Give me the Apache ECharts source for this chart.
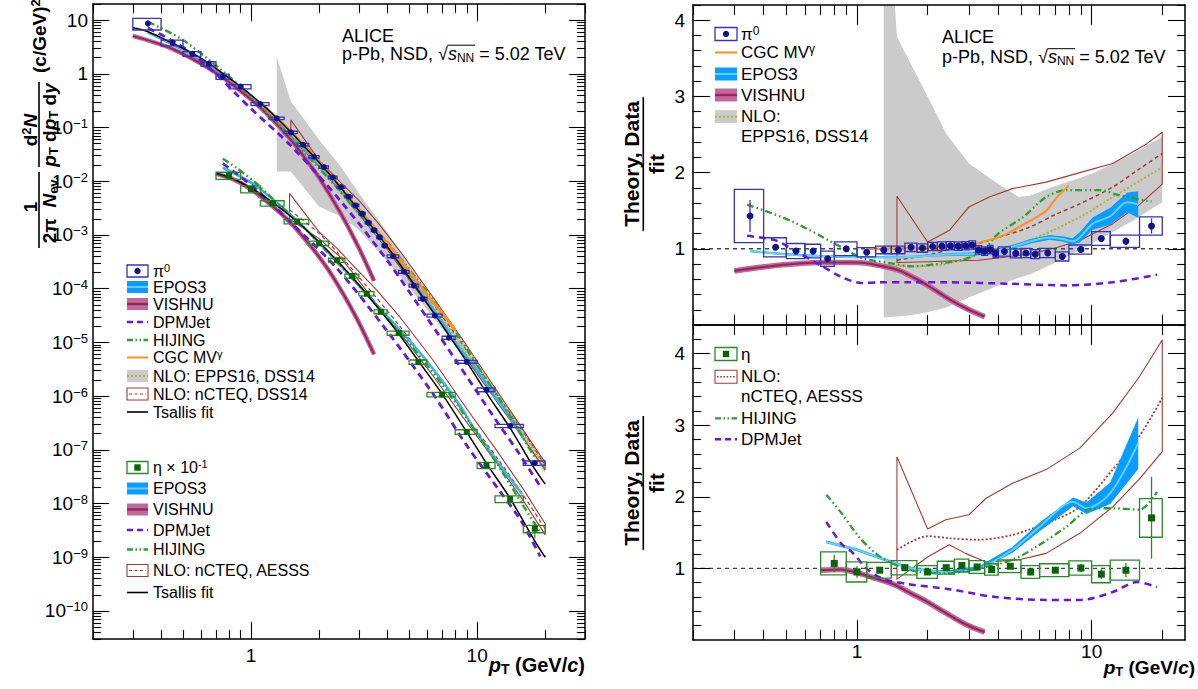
<!DOCTYPE html>
<html>
<head>
<meta charset="utf-8">
<title>ALICE neutral meson spectra p-Pb 5.02 TeV</title>
<script src="https://cdn.jsdelivr.net/npm/echarts@6.0.0/dist/echarts.min.js"></script>
<style>
html,body{margin:0;padding:0;background:#fff;}
#chart{width:1198px;height:689px;}
</style>
</head>
<body>
<div id="chart"></div>
<script>
// ---------------- axis ranges and tick labels ----------------
const spectraXMin = 0.2, spectraXMax = 30;
const spectraYMin = 3e-11, spectraYMax = 20;
const ratioXMin = 0.2, ratioXMax = 25;
const ratioTopYMin = 0, ratioTopYMax = 4.2;
const ratioBotYMin = 0, ratioBotYMax = 4.4;
const xMajorTicks = [1, 10];
const spectraYMajorTicks = [1e-10, 1e-9, 1e-8, 1e-7, 1e-6, 1e-5, 1e-4, 1e-3, 1e-2, 1e-1, 1, 10];
const ratioYMajorTicks = [1, 2, 3, 4];
const unityRatio = 1;

// ---------------- pi0 data ----------------
const pi0BinLo = [0.3,0.4,0.5,0.6,0.7,0.8,1.0,1.2,1.4,1.6,1.8,2.0,2.2,2.4,2.6,2.8,3.0,3.2,3.4,3.6,3.8,4.0,4.5,5.0,5.5,6.0,7.0,8.0,10,12,16];
const pi0BinHi = [0.4,0.5,0.6,0.7,0.8,1.0,1.2,1.4,1.6,1.8,2.0,2.2,2.4,2.6,2.8,3.0,3.2,3.4,3.6,3.8,4.0,4.5,5.0,5.5,6.0,7.0,8.0,10,12,16,20];
const pi0Pt = [0.35,0.45,0.55,0.65,0.75,0.9,1.1,1.3,1.5,1.7,1.9,2.1,2.3,2.5,2.7,2.9,3.1,3.3,3.5,3.7,3.9,4.25,4.75,5.25,5.75,6.5,7.5,9,11,14,18];
const pi0Yield = [8.68,3.79,2.36,1.54,0.891,0.58,0.275,0.1485,0.0813,0.048,0.0286,0.0184,0.01178,0.0078,0.0052,0.00355,0.0025,0.0017,0.00123,0.00091,0.000634,0.000402,0.000207,0.000114,6.45e-5,3.16e-5,1.22e-5,4.35e-6,1.31e-6,2.78e-7,5.67e-8];
const pi0Ratio = [1.43,1.02,0.97,0.97,0.87,1.0,0.955,0.985,0.985,1.02,1.01,1.03,1.035,1.04,1.035,1.04,1.05,0.985,0.97,0.99,0.94,0.965,0.94,0.945,0.93,0.945,0.9,0.99,1.135,1.10,1.30];
const pi0Syst = [0.35,0.125,0.1,0.09,0.1,0.09,0.06,0.05,0.05,0.055,0.055,0.055,0.055,0.055,0.055,0.055,0.055,0.055,0.055,0.055,0.055,0.06,0.06,0.06,0.06,0.06,0.06,0.06,0.09,0.08,0.12];
const pi0Stat = [0.21,0.03,0.02,0.02,0.02,0.02,0.01,0.01,0.01,0.01,0.01,0.01,0.01,0.01,0.01,0.01,0.01,0.01,0.01,0.01,0.01,0.01,0.01,0.01,0.01,0.015,0.02,0.03,0.04,0.05,0.1];

// ---------------- eta data (spectrum scaled by 0.1) ----------------
const etaBinLo = [0.7,0.9,1.1,1.4,1.8,2.2,2.6,3.0,3.5,4.0,5.0,6.0,8.0,10,12,16];
const etaBinHi = [0.9,1.1,1.4,1.8,2.2,2.6,3.0,3.5,4.0,5.0,6.0,8.0,10,12,16,20];
const etaPt = [0.8,1.0,1.25,1.6,2.0,2.4,2.8,3.25,3.75,4.5,5.5,7,9,11,14,18];
const etaYieldScaled = [0.0128,0.00715,0.0039,0.00178,7.03e-4,3.39e-4,1.72e-4,8.07e-5,3.72e-5,1.49e-5,4.29e-6,1.07e-6,2.15e-7,5.14e-8,1.21e-8,3.39e-9];
const etaRatio = [1.07,0.95,0.975,1.01,0.95,1.01,1.04,1.02,0.985,1.03,0.95,0.975,1.005,0.92,0.975,1.705];
const etaSyst = [0.16,0.14,0.11,0.1,0.09,0.09,0.09,0.09,0.08,0.09,0.09,0.09,0.1,0.12,0.14,0.27];
const etaStat = [0.12,0.08,0.04,0.04,0.03,0.03,0.03,0.03,0.03,0.03,0.04,0.04,0.06,0.07,0.1,0.57];

// ---------------- Tsallis fits ----------------
const pi0FitPt = [0.3,0.35,0.45,0.55,0.65,0.75,0.9,1.1,1.3,1.5,1.7,2.0,2.5,3.0,3.5,4.0,5.0,6.0,7.5,9,11,14,18,20];
const pi0Fit = [7.2,6.1,3.72,2.43,1.59,1.02,0.58,0.288,0.151,0.0825,0.047,0.0225,0.0075,0.00285,0.00127,0.00061,0.000163,5.4e-5,1.36e-5,4.35e-6,1.15e-6,2.53e-7,4.36e-8,2.3e-8];
const etaFitPt = [0.7,0.8,1.0,1.25,1.6,2.0,2.4,2.8,3.25,3.75,4.5,5.5,7,9,11,14,18,20];
const etaFit = [0.0142,0.01196,0.00753,0.0040,0.00176,7.4e-4,3.36e-4,1.65e-4,7.9e-5,3.78e-5,1.45e-5,4.5e-6,1.10e-6,2.14e-7,5.6e-8,1.24e-8,2.0e-9,1.0e-9];

// ---------------- model spectra (left panel) ----------------
const epos3Pi0SpecPt = [0.35,0.45,0.55,0.7,0.85,1.0,1.25,1.5,1.75,2.0,2.5,3.0,3.5,4.0,5.0,6.0,7.0,8.0,10,12,14,16];
const epos3Pi0Spec = [5.92,3.50,2.24,1.153,0.627,0.363,0.158,0.0733,0.0371,0.0205,0.00693,0.00265,0.00119,6.04e-4,1.73e-4,6.0e-5,2.46e-5,1.03e-5,2.98e-6,9.66e-7,4.05e-7,1.66e-7];
const vishnuPi0SpecPt = [0.3,0.45,0.7,1.0,1.2,1.5,1.75,2.0,2.5,3.0,3.5];
const vishnuPi0Spec = [5.1,2.9,1.045,0.335,0.165,0.0593,0.0256,0.0117,0.00248,5.7e-4,1.4e-4];
const dpmjetPi0SpecPt = [0.35,0.45,0.55,0.7,0.85,1.0,1.5,2.5,4.0,6.0,8.0,12,15,19];
const dpmjetPi0Spec = [7.13,4.13,2.38,0.993,0.442,0.224,0.0461,0.0042,3.37e-4,2.88e-5,4.85e-6,3.78e-7,9.8e-8,2.09e-8];
const hijingPi0SpecPt = [0.35,0.5,0.85,1.05,1.4,1.75,2.4,3.0,3.5,4.0,5.0,6.5,8,11,13,18];
const hijingPi0Spec = [9.3,4.27,0.714,0.301,0.0902,0.0318,0.00757,0.0025,0.00127,7.4e-4,2.3e-4,5.6e-5,1.65e-5,2.04e-6,7.1e-7,7.1e-8];
const cgcPi0SpecPt = [1.1,1.5,2,3,4,5,6,7,8];
const cgcPi0Spec = [0.288,0.0832,0.023,0.00299,7.1e-4,2.12e-4,7.72e-5,3.52e-5,1.71e-5];
const epps16BandPt = [1.3,1.5,2.0,2.5,3.0,4.0,5.0,6.0,7.0,8.0,10,12,15,20];
const epps16BandHi = [2.05,0.308,0.0595,0.0184,0.006,0.00114,2.73e-4,9.25e-5,3.85e-5,1.73e-5,4.44e-6,1.42e-6,3.65e-7,5.66e-8];
const epps16BandLo = [0.0152,0.0152,0.0034,0.0022,0.00124,3.2e-4,1.06e-4,4.08e-5,1.82e-5,8.67e-6,2.46e-6,8.24e-7,2.22e-7,3.66e-8];
const epps16CenterPt = [1.3,2,3,4,5,6,8,10,12,15,20];
const epps16Center = [0.119,0.0178,0.0025,6.04e-4,1.76e-4,6.34e-5,1.29e-5,3.36e-6,1.12e-6,3.0e-7,4.74e-8];
const ncteqPi0HiPt = [1.5,2.0,2.5,3.0,3.66,4.6,6.4,8.9,12.3,17.2,20];
const ncteqPi0Hi = [0.139,0.0245,0.0093,0.00442,0.00165,4.76e-4,6.8e-5,9.35e-6,1.22e-6,1.48e-7,5.79e-8];
const ncteqPi0LoPt = [1.5,2.0,2.5,3.3,4.0,5.4,7,8.9,12.3,16,20];
const ncteqPi0Lo = [0.0676,0.01866,0.0063,0.00147,5.42e-4,9.5e-5,2.16e-5,5.19e-6,7.66e-7,1.66e-7,4.24e-8];
const ncteqPi0Center = [0.07,0.0207,0.00743,0.00185,7.1e-4,1.31e-4,3.1e-5,7.43e-6,1.04e-6,2.15e-7,5.15e-8];

const epos3EtaSpecPt = [0.75,1.0,1.25,1.5,1.75,2.4,3.3,4.6,6.0,8.35,9.5,12,15.8];
const epos3EtaSpec = [0.01786,0.00948,0.0046,0.00236,0.00127,3.19e-4,7.35e-5,1.62e-5,4.45e-6,7.0e-7,2.82e-7,6.97e-8,1.5e-8];
const vishnuEtaSpecPt = [0.7,0.85,1.0,1.2,1.45,1.7,2.0,2.3,2.9,3.5];
const vishnuEtaSpec = [0.01384,0.0105,0.00708,0.0039,0.00193,9.2e-4,3.92e-4,1.68e-4,3.08e-5,6.0e-6];
const dpmjetEtaSpecPt = [0.75,0.86,1.05,1.46,2.39,3.9,6.4,9,12.3,15.6,19];
const dpmjetEtaSpec = [0.0215,0.01396,0.00716,0.00191,2.43e-4,1.87e-5,1.08e-6,1.2e-7,1.95e-8,4.83e-9,1.04e-9];
const hijingEtaSpecPt = [0.75,0.86,1.05,1.25,1.5,1.72,2.39,3.3,4.6,6.0,7.8,10.1,12.3,16,19];
const hijingEtaSpec = [0.0264,0.01795,0.00929,0.00468,0.00234,0.001355,3.18e-4,7.35e-5,1.44e-5,3.74e-6,9.04e-7,1.88e-7,5.37e-8,9.1e-9,2.92e-9];
const ncteqEtaHiPt = [1.48,2.0,2.39,3.0,3.55,4.6,6.4,8.9,12.3,16,20];
const ncteqEtaHi = [0.00597,0.001146,5.74e-4,2.08e-4,1.0e-4,2.82e-5,4.6e-6,6.21e-7,9.25e-8,1.85e-8,4.19e-9];
const ncteqEtaLoPt = [1.48,2.0,2.47,2.9,3.55,4.9,6.4,8.9,12.3,16,20];
const ncteqEtaLo = [0.00198,8.57e-4,3.94e-4,1.69e-4,5.52e-5,1.02e-5,2.34e-6,3.45e-7,5.43e-8,1.13e-8,2.63e-9];
const ncteqEtaCenterPt = [1.48,2.0,2.5,3.3,4.5,5.4,7,8.9,12.3,16,20];
const ncteqEtaCenter = [0.00294,0.00107,3.99e-4,1.03e-4,2.11e-5,7.8e-6,1.85e-6,4.32e-7,6.95e-8,1.43e-8,3.38e-9];

// ---------------- model / fit ratios, pi0 (top right) ----------------
const epos3Pi0RatioPt = [0.35,0.45,0.55,0.7,0.85,1.0,1.25,1.5,1.75,2.0,2.5,3.0,3.5,4.0,4.9,5.5,6.6,7.5,8.3,8.9,10.1,12,14.2,15.8];
const epos3Pi0RatioMid = [0.97,0.94,0.92,0.905,0.895,0.89,0.89,0.89,0.895,0.91,0.925,0.93,0.94,0.98,1.05,1.1,1.15,1.13,1.10,1.15,1.33,1.43,1.61,1.58];
const epos3Pi0RatioErr = [0.015,0.015,0.015,0.015,0.015,0.015,0.015,0.015,0.015,0.015,0.02,0.02,0.02,0.02,0.025,0.03,0.03,0.035,0.04,0.066,0.08,0.11,0.13,0.175];
const vishnuPi0RatioPt = [0.3,0.45,0.7,1.0,1.2,1.5,1.75,2.0,2.5,3.0,3.5];
const vishnuPi0Ratio = [0.71,0.78,0.82,0.82,0.79,0.72,0.62,0.52,0.33,0.2,0.11];
const dpmjetPi0RatioPt = [0.34,0.45,0.54,0.685,0.86,1.05,1.24,1.66,2.4,4.6,7.8,12.3,19];
const dpmjetPi0Ratio = [1.17,1.11,0.98,0.8,0.63,0.55,0.56,0.56,0.56,0.54,0.52,0.56,0.66];
const hijingPi0RatioPt = [0.34,0.52,0.86,1.05,1.4,1.72,2.4,3.0,3.5,4.0,5.1,6.4,7.8,10.8,13.2,18];
const hijingPi0Ratio = [1.58,1.37,1.02,0.88,0.81,0.77,0.82,0.88,1.0,1.2,1.415,1.68,1.77,1.77,1.7,1.62];
const cgcPi0RatioPt = [1.1,1.5,2.0,2.5,3.0,3.5,4.0,4.5,5.0,5.5,6.0,6.5,7.0,7.5,8.0];
const cgcPi0Ratio = [1.0,1.01,1.02,1.03,1.05,1.1,1.15,1.22,1.3,1.37,1.44,1.52,1.65,1.75,1.83];
const epps16RatioBandPt = [1.3,1.48,1.72,2.0,2.4,3.0,4.0,4.9,5.5,6.8,8.9,10.1,12,15,20];
const epps16RatioHi = [6.5,3.78,3.39,3.0,2.51,2.12,1.85,1.68,1.7,1.81,1.93,1.99,2.1,2.25,2.47];
const epps16RatioLo = [0.1,0.11,0.13,0.17,0.23,0.36,0.52,0.62,0.67,0.8,0.98,1.08,1.2,1.37,1.61];
const epps16RatioCenterPt = [1.3,1.7,2.4,3.3,5.4,8.9,12.3,20];
const epps16RatioCenter = [0.79,0.77,0.8,0.93,1.11,1.415,1.68,2.07];
const ncteqPi0RatioHiPt = [1.48,2.0,2.47,3.0,3.66,4.6,6.4,8.9,12.3,17.2,20];
const ncteqPi0RatioHi = [1.69,1.09,1.24,1.55,1.68,1.79,1.875,2.0,2.12,2.38,2.53];
const ncteqPi0RatioLoPt = [1.48,2.0,2.5,3.3,4.0,5.4,7,8.9,12.3,16,20];
const ncteqPi0RatioLo = [0.82,0.83,0.84,0.85,0.88,0.93,1.01,1.11,1.33,1.58,1.85];
const ncteqPi0RatioCenter = [0.85,0.92,0.99,1.07,1.15,1.28,1.45,1.59,1.81,2.05,2.25];

// ---------------- model / fit ratios, eta (bottom right) ----------------
const epos3EtaRatioPt = [0.74,1.0,1.24,1.46,1.72,2.0,2.39,3.3,4.6,6.0,8.35,9.5,12,15.8];
const epos3EtaRatioMid = [1.37,1.26,1.15,1.07,1.0,0.97,0.95,1.0,1.26,1.58,1.93,1.84,2.05,2.75];
const epos3EtaRatioErr = [0.02,0.02,0.02,0.02,0.02,0.02,0.02,0.03,0.04,0.06,0.06,0.08,0.15,0.36];
const vishnuEtaRatioPt = [0.7,0.85,1.0,1.2,1.45,1.7,2.0,2.3,2.9,3.5];
const vishnuEtaRatio = [0.975,0.985,0.94,0.86,0.77,0.65,0.53,0.41,0.22,0.11];
const dpmjetEtaRatioPt = [0.74,0.86,0.95,1.12,1.3,1.66,2.47,3.9,6.4,9.0,12.3,15.6,19];
const dpmjetEtaRatio = [1.65,1.34,1.23,0.975,0.85,0.78,0.71,0.6,0.56,0.56,0.67,0.81,0.74];
const hijingEtaRatioPt = [0.74,0.86,1.02,1.2,1.37,1.56,1.84,2.39,3.3,4.6,6.0,7.8,10.1,12.3,16,19];
const hijingEtaRatio = [2.03,1.77,1.44,1.21,1.09,1.01,0.95,0.93,1.0,1.12,1.33,1.58,1.84,1.84,1.82,2.07];
const ncteqEtaRatioHiPt = [1.48,2.0,2.39,3.0,3.55,4.6,6.4,8.9,12.3,16,20];
const ncteqEtaRatioHi = [2.56,1.55,1.68,1.75,1.98,2.19,2.38,2.68,3.17,3.68,4.19];
const ncteqEtaRatioLoPt = [1.48,2.0,2.47,2.9,3.55,4.9,6.4,8.9,12.3,16,20];
const ncteqEtaRatioLo = [0.85,1.16,1.33,1.21,1.09,1.12,1.21,1.49,1.86,2.25,2.63];
const ncteqEtaRatioCenterPt = [1.48,2.0,2.5,3.3,4.5,5.4,7,8.9,12.3,16,20];
const ncteqEtaRatioCenter = [1.26,1.45,1.42,1.40,1.46,1.54,1.68,1.86,2.38,2.85,3.38];

// ================= styling =================
const FONT = '"Liberation Sans", Arial, Helvetica, sans-serif';
const COL = {
  pi0Box: '#3434b4', pi0Mark: '#12128a',
  etaBox: '#2a8a2a', etaMark: '#0a640a',
  eposBand: '#0a9cff', eposLine: '#5fd0ff', eposLeft: '#33b6f0',
  vishOuter: '#c4679b', vishInner: '#93285f',
  dpm: '#6a16d8', hij: '#2e9e2e', cgc: '#ff8f1f',
  gray: '#cbcbcb', olive: '#b3b13a', brown: '#a33a32', black: '#000'
};
const DASH_DPM = [7, 5];
const DASH_HIJ = [7, 3, 1.6, 3, 1.6, 3];

// ---------------- axes ----------------
function logMinor(min, max) {
  const out = [];
  for (let k = -12; k <= 2; k++) {
    for (let m = 2; m <= 9; m++) {
      const v = m * Math.pow(10, k);
      if (v >= min * 0.999 && v <= max * 1.001) out.push(v);
    }
  }
  return out;
}
function linMinor(max) {
  const out = [];
  for (let i = 1; i * 0.2 <= max + 1e-9; i++) { if (i % 5 !== 0) out.push(+(i * 0.2).toFixed(2)); }
  return out;
}
function makeAxes(dim, gridIndex, type, min, max, majors, minors, majLen, minLen, labelOpt) {
  const posA = dim === 'x' ? 'bottom' : 'left';
  const posB = dim === 'x' ? 'top' : 'right';
  const base = { gridIndex: gridIndex, type: type, min: min, max: max, silent: true,
    splitLine: { show: false }, splitArea: { show: false }, minorTick: { show: false }, minorSplitLine: { show: false },
    axisPointer: { show: false }, z: 8 };
  if (type === 'log') base.logBase = 10;
  const line = { show: true, onZero: false, lineStyle: { color: '#000', width: 1.5 } };
  const noLine = { show: false, onZero: false };
  const tick = (vals, len) => ({ show: true, inside: true, length: len, customValues: vals, lineStyle: { color: '#000', width: 1.1 } });
  const noLabel = { show: false };
  return [
    Object.assign({}, base, { position: posA, axisLine: line, axisTick: tick(majors, majLen), axisLabel: labelOpt || noLabel }),
    Object.assign({}, base, { position: posA, axisLine: noLine, axisTick: tick(minors, minLen), axisLabel: noLabel }),
    Object.assign({}, base, { position: posB, axisLine: line, axisTick: tick(majors, majLen), axisLabel: noLabel }),
    Object.assign({}, base, { position: posB, axisLine: noLine, axisTick: tick(minors, minLen), axisLabel: noLabel })
  ];
}
const plainLabel = (vals, margin, lh) => ({ show: true, customValues: vals, margin: margin, color: '#000', fontFamily: FONT, fontSize: 19,
  lineHeight: lh || 21, formatter: v => String(v) });
const powLabel = {
  show: true, customValues: spectraYMajorTicks, margin: 5, color: '#000', fontFamily: FONT, fontSize: 19,
  formatter: function (v) {
    const e = Math.round(Math.log10(v));
    if (e === 0) return '{b|1}';
    if (e === 1) return '{b|10}';
    return '{b|10}{s|' + (e < 0 ? '\u2212' : '') + Math.abs(e) + '}';
  },
  rich: {
    b: { fontSize: 19, fontFamily: FONT, color: '#000', lineHeight: 21, verticalAlign: 'middle' },
    s: { fontSize: 13, fontFamily: FONT, color: '#000', lineHeight: 14, verticalAlign: 'top' }
  }
};

const xAxes = [].concat(
  makeAxes('x', 0, 'log', spectraXMin, spectraXMax, xMajorTicks, logMinor(spectraXMin, spectraXMax), 17, 9, plainLabel(xMajorTicks, 6)),
  makeAxes('x', 1, 'log', ratioXMin, ratioXMax, xMajorTicks, logMinor(ratioXMin, ratioXMax), 20, 10, null),
  makeAxes('x', 2, 'log', ratioXMin, ratioXMax, xMajorTicks, logMinor(ratioXMin, ratioXMax), 20, 10, plainLabel(xMajorTicks, 4, 15))
);
const yAxes = [].concat(
  makeAxes('y', 0, 'log', spectraYMin, spectraYMax, spectraYMajorTicks, logMinor(spectraYMin, spectraYMax), 16, 8, powLabel),
  makeAxes('y', 1, 'value', ratioTopYMin, ratioTopYMax, ratioYMajorTicks, linMinor(ratioTopYMax), 17, 8, plainLabel(ratioYMajorTicks, 8)),
  makeAxes('y', 2, 'value', ratioBotYMin, ratioBotYMax, ratioYMajorTicks, linMinor(ratioBotYMax), 17, 8, plainLabel(ratioYMajorTicks, 8))
);

// ---------------- series helpers ----------------
const pairs = (xs, ys) => xs.map((x, i) => [x, ys[i]]);
function lineS(name, data, ax, color, width, dash, z, smooth) {
  return { type: 'line', name: name, xAxisIndex: ax, yAxisIndex: ax, data: data,
    showSymbol: false, symbol: 'none', smooth: smooth === undefined ? 0.3 : smooth, clip: true, silent: true, z: z || 3,
    lineStyle: { color: color, width: width, type: dash || 'solid', cap: 'butt', join: 'round' } };
}
function loopData(hiX, hiY, loX, loY) {
  const d = pairs(hiX, hiY);
  for (let i = loX.length - 1; i >= 0; i--) d.push([loX[i], loY[i]]);
  d.push([hiX[0], hiY[0]]);
  return d;
}
function polyS(name, xs, los, his, ax, fill, z) {
  const data = xs.map((x, i) => [x, los[i], his[i]]);
  return { type: 'custom', name: name, xAxisIndex: ax, yAxisIndex: ax, clip: true, silent: true, z: z || 1,
    encode: { x: 0, y: [1, 2] }, data: data,
    renderItem: function (params, api) {
      if (params.dataIndex !== 0) return null;
      const pts = [];
      for (let i = 0; i < data.length; i++) pts.push(api.coord([data[i][0], data[i][2]]));
      for (let i = data.length - 1; i >= 0; i--) pts.push(api.coord([data[i][0], data[i][1]]));
      return { type: 'polygon', shape: { points: pts }, style: { fill: fill, stroke: null } };
    } };
}
function boxS(name, lo, hi, ylo, yhi, ax, color, lw) {
  const data = lo.map((l, i) => [l, hi[i], ylo[i], yhi[i]]);
  return { type: 'custom', name: name, xAxisIndex: ax, yAxisIndex: ax, clip: true, silent: true, z: 5,
    encode: { x: [0, 1], y: [2, 3] }, data: data,
    renderItem: function (params, api) {
      const a = api.coord([api.value(0), api.value(3)]);
      const b = api.coord([api.value(1), api.value(2)]);
      return { type: 'rect', shape: { x: a[0], y: a[1], width: b[0] - a[0], height: b[1] - a[1] },
        style: { fill: 'none', stroke: color, lineWidth: lw } };
    } };
}
function errS(name, xs, ylo, yhi, ax, color, lw) {
  const data = xs.map((x, i) => [x, ylo[i], yhi[i]]);
  return { type: 'custom', name: name, xAxisIndex: ax, yAxisIndex: ax, clip: true, silent: true, z: 6,
    encode: { x: 0, y: [1, 2] }, data: data,
    renderItem: function (params, api) {
      const a = api.coord([api.value(0), api.value(1)]);
      const b = api.coord([api.value(0), api.value(2)]);
      return { type: 'line', shape: { x1: a[0], y1: a[1], x2: b[0], y2: b[1] }, style: { stroke: color, lineWidth: lw } };
    } };
}
function markS(name, xs, ys, ax, color, symbol, size) {
  return { type: 'scatter', name: name, xAxisIndex: ax, yAxisIndex: ax, data: pairs(xs, ys), symbol: symbol,
    symbolSize: size, itemStyle: { color: color, opacity: 1 }, silent: true, clip: true, z: 7 };
}
function vishnuS(name, xs, ys, ax, wOuter, wInner) {
  return [lineS(name, pairs(xs, ys), ax, COL.vishOuter, wOuter, 'solid', 3.4),
          lineS(name + ' centre', pairs(xs, ys), ax, COL.vishInner, wInner, 'solid', 3.5)];
}

// derived mark coordinates (from the read values)
const pi0BoxLoL = pi0Yield.map((y, i) => y * (1 - pi0Syst[i] / pi0Ratio[i]));
const pi0BoxHiL = pi0Yield.map((y, i) => y * (1 + pi0Syst[i] / pi0Ratio[i]));
const pi0ErrLoL = pi0Yield.map((y, i) => y * (1 - pi0Stat[i] / pi0Ratio[i]));
const pi0ErrHiL = pi0Yield.map((y, i) => y * (1 + pi0Stat[i] / pi0Ratio[i]));
const etaBoxLoL = etaYieldScaled.map((y, i) => y * (1 - etaSyst[i] / etaRatio[i]));
const etaBoxHiL = etaYieldScaled.map((y, i) => y * (1 + etaSyst[i] / etaRatio[i]));
const etaErrLoL = etaYieldScaled.map((y, i) => y * (1 - etaStat[i] / etaRatio[i]));
const etaErrHiL = etaYieldScaled.map((y, i) => y * (1 + etaStat[i] / etaRatio[i]));
const pi0BoxLoR = pi0Ratio.map((r, i) => r - pi0Syst[i]);
const pi0BoxHiR = pi0Ratio.map((r, i) => r + pi0Syst[i]);
const pi0ErrLoR = pi0Ratio.map((r, i) => r - pi0Stat[i]);
const pi0ErrHiR = pi0Ratio.map((r, i) => r + pi0Stat[i]);
const etaBoxLoR = etaRatio.map((r, i) => r - etaSyst[i]);
const etaBoxHiR = etaRatio.map((r, i) => r + etaSyst[i]);
const etaErrLoR = etaRatio.map((r, i) => r - etaStat[i]);
const etaErrHiR = etaRatio.map((r, i) => r + etaStat[i]);

const L = 0, RT = 4, RB = 8;
const series = [].concat(
  // ---------- left: spectra ----------
  polyS('NLO EPPS16 DSS14 pi0', epps16BandPt, epps16BandLo, epps16BandHi, L, COL.gray, 1),
  lineS('NLO nCTEQ DSS14 pi0 band', loopData(ncteqPi0HiPt, ncteqPi0Hi, ncteqPi0LoPt, ncteqPi0Lo), L, COL.brown, 1.1, 'solid', 2, false),
  lineS('NLO nCTEQ DSS14 pi0', pairs(ncteqPi0LoPt, ncteqPi0Center), L, COL.brown, 1.2, [4, 3], 2),
  lineS('NLO EPPS16 DSS14 pi0 centre', pairs(epps16CenterPt, epps16Center), L, COL.olive, 2, [2, 2], 2),
  lineS('NLO nCTEQ AESSS eta band', loopData(ncteqEtaHiPt, ncteqEtaHi, ncteqEtaLoPt, ncteqEtaLo), L, COL.brown, 1.1, 'solid', 2, false),
  lineS('NLO nCTEQ AESSS eta', pairs(ncteqEtaCenterPt, ncteqEtaCenter), L, COL.brown, 1.2, [4, 3], 2),
  lineS('EPOS3 pi0', pairs(epos3Pi0SpecPt, epos3Pi0Spec), L, COL.eposLeft, 2.6, 'solid', 3),
  lineS('EPOS3 eta', pairs(epos3EtaSpecPt, epos3EtaSpec), L, COL.eposLeft, 2.6, 'solid', 3),
  vishnuS('VISHNU pi0', vishnuPi0SpecPt, vishnuPi0Spec, L, 4.5, 2),
  vishnuS('VISHNU eta', vishnuEtaSpecPt, vishnuEtaSpec, L, 4.5, 2),
  lineS('DPMJet pi0', pairs(dpmjetPi0SpecPt, dpmjetPi0Spec), L, COL.dpm, 2.8, DASH_DPM, 3.6),
  lineS('DPMJet eta', pairs(dpmjetEtaSpecPt, dpmjetEtaSpec), L, COL.dpm, 2.8, DASH_DPM, 3.6),
  lineS('HIJING pi0', pairs(hijingPi0SpecPt, hijingPi0Spec), L, COL.hij, 2.4, DASH_HIJ, 3.7),
  lineS('HIJING eta', pairs(hijingEtaSpecPt, hijingEtaSpec), L, COL.hij, 2.4, DASH_HIJ, 3.7),
  lineS('CGC MVgamma pi0', pairs(cgcPi0SpecPt, cgcPi0Spec), L, COL.cgc, 3, 'solid', 3.8),
  lineS('Tsallis fit pi0', pairs(pi0FitPt, pi0Fit), L, COL.black, 1.5, 'solid', 4),
  lineS('Tsallis fit eta', pairs(etaFitPt, etaFit), L, COL.black, 1.5, 'solid', 4),
  boxS('pi0 syst', pi0BinLo, pi0BinHi, pi0BoxLoL, pi0BoxHiL, L, COL.pi0Box, 1.3),
  boxS('eta syst', etaBinLo, etaBinHi, etaBoxLoL, etaBoxHiL, L, COL.etaBox, 1.3),
  errS('pi0 stat', pi0Pt, pi0ErrLoL, pi0ErrHiL, L, COL.pi0Box, 1.2),
  errS('eta stat', etaPt, etaErrLoL, etaErrHiL, L, COL.etaBox, 1.2),
  markS('pi0', pi0Pt, pi0Yield, L, COL.pi0Mark, 'circle', 6),
  markS('eta x 0.1', etaPt, etaYieldScaled, L, COL.etaMark, 'rect', 6),

  // ---------- right top: pi0 ratios ----------
  polyS('NLO EPPS16 DSS14 ratio', epps16RatioBandPt, epps16RatioLo, epps16RatioHi, RT, COL.gray, 1),
  lineS('NLO nCTEQ DSS14 ratio band', loopData(ncteqPi0RatioHiPt, ncteqPi0RatioHi, ncteqPi0RatioLoPt, ncteqPi0RatioLo), RT, COL.brown, 1.1, 'solid', 2, false),
  lineS('NLO nCTEQ DSS14 ratio', pairs(ncteqPi0RatioLoPt, ncteqPi0RatioCenter), RT, COL.brown, 1.5, [4, 3], 2),
  lineS('NLO EPPS16 ratio centre', pairs(epps16RatioCenterPt, epps16RatioCenter), RT, COL.olive, 2, [2, 2], 2),
  lineS('Tsallis fit ratio pi0', [[ratioXMin, unityRatio], [ratioXMax, unityRatio]], RT, '#444', 1.4, [4, 4], 2.5, false),
  polyS('EPOS3 pi0 ratio band', epos3Pi0RatioPt, epos3Pi0RatioMid.map((m, i) => m - epos3Pi0RatioErr[i]), epos3Pi0RatioMid.map((m, i) => m + epos3Pi0RatioErr[i]), RT, COL.eposBand, 3),
  lineS('EPOS3 pi0 ratio', pairs(epos3Pi0RatioPt, epos3Pi0RatioMid), RT, COL.eposLine, 2, 'solid', 3.1),
  vishnuS('VISHNU pi0 ratio', vishnuPi0RatioPt, vishnuPi0Ratio, RT, 5.5, 2.2),
  lineS('DPMJet pi0 ratio', pairs(dpmjetPi0RatioPt, dpmjetPi0Ratio), RT, COL.dpm, 2.5, DASH_DPM, 3.6),
  lineS('HIJING pi0 ratio', pairs(hijingPi0RatioPt, hijingPi0Ratio), RT, COL.hij, 2.3, DASH_HIJ, 3.7),
  lineS('CGC MVgamma ratio', pairs(cgcPi0RatioPt, cgcPi0Ratio), RT, COL.cgc, 2, 'solid', 3.8),
  boxS('pi0 syst ratio', pi0BinLo, pi0BinHi, pi0BoxLoR, pi0BoxHiR, RT, COL.pi0Box, 1.3),
  errS('pi0 stat ratio', pi0Pt, pi0ErrLoR, pi0ErrHiR, RT, COL.pi0Box, 1.3),
  markS('pi0 ratio', pi0Pt, pi0Ratio, RT, COL.pi0Mark, 'circle', 7),

  // ---------- right bottom: eta ratios ----------
  lineS('NLO nCTEQ AESSS ratio band', loopData(ncteqEtaRatioHiPt, ncteqEtaRatioHi, ncteqEtaRatioLoPt, ncteqEtaRatioLo), RB, COL.brown, 1.1, 'solid', 2, false),
  lineS('NLO nCTEQ AESSS ratio', pairs(ncteqEtaRatioCenterPt, ncteqEtaRatioCenter), RB, COL.brown, 1.8, [2, 2], 2),
  lineS('Tsallis fit ratio eta', [[ratioXMin, unityRatio], [ratioXMax, unityRatio]], RB, '#444', 1.4, [4, 4], 2.5, false),
  polyS('EPOS3 eta ratio band', epos3EtaRatioPt, epos3EtaRatioMid.map((m, i) => m - epos3EtaRatioErr[i]), epos3EtaRatioMid.map((m, i) => m + epos3EtaRatioErr[i]), RB, COL.eposBand, 3),
  lineS('EPOS3 eta ratio', pairs(epos3EtaRatioPt, epos3EtaRatioMid), RB, COL.eposLine, 2, 'solid', 3.1),
  vishnuS('VISHNU eta ratio', vishnuEtaRatioPt, vishnuEtaRatio, RB, 5.5, 2.2),
  lineS('DPMJet eta ratio', pairs(dpmjetEtaRatioPt, dpmjetEtaRatio), RB, COL.dpm, 2.5, DASH_DPM, 3.6),
  lineS('HIJING eta ratio', pairs(hijingEtaRatioPt, hijingEtaRatio), RB, COL.hij, 2.3, DASH_HIJ, 3.7),
  boxS('eta syst ratio', etaBinLo, etaBinHi, etaBoxLoR, etaBoxHiR, RB, COL.etaBox, 1.3),
  errS('eta stat ratio', etaPt, etaErrLoR, etaErrHiR, RB, COL.etaBox, 1.3),
  markS('eta ratio', etaPt, etaRatio, RB, COL.etaMark, 'rect', 7)
);

// ================= texts and legends (graphic) =================
function richSet(fs, opt) {
  opt = opt || {};
  const w = opt.bold ? 'bold' : 'normal';
  const lh = opt.lh || Math.round(fs * 1.1);
  const sm = Math.round(fs * 0.68);
  const mk = (o) => Object.assign({ fontFamily: FONT, fontSize: fs, fontWeight: w, lineHeight: lh, verticalAlign: 'middle', fill: '#000', color: '#000' }, o);
  return {
    n: mk({}),
    i: mk({ fontStyle: 'italic' }),
    b: mk({ fontWeight: 'bold' }),
    bi: mk({ fontWeight: 'bold', fontStyle: 'italic' }),
    sup: mk({ fontSize: sm, lineHeight: opt.supLH || Math.round(fs * 0.5), verticalAlign: 'top' }),
    sub: mk({ fontSize: sm, lineHeight: opt.subLH || Math.round(fs * 0.5), verticalAlign: 'bottom' })
  };
}
function gText(x, y, text, fs, opt) {
  opt = opt || {};
  return { type: 'text', x: x, y: y, z: 100, silent: true,
    style: { text: text, fontFamily: FONT, fontSize: fs, fill: '#000', align: opt.align || 'left', verticalAlign: opt.va || 'middle', rich: richSet(fs, opt) } };
}
function gLine(x1, y1, x2, y2, color, w, dash) {
  return { type: 'line', z: 100, silent: true, shape: { x1: x1, y1: y1, x2: x2, y2: y2 }, style: { stroke: color, lineWidth: w, lineDash: dash || null } };
}
function gRect(x, y, w, h, fill, stroke, lw) {
  return { type: 'rect', z: 100, silent: true, shape: { x: x, y: y, width: w, height: h }, style: { fill: fill || 'none', stroke: stroke || null, lineWidth: lw || 0 } };
}

const mctx = document.createElement('canvas').getContext('2d');
function tw(txt, font) { mctx.font = font; return mctx.measureText(txt).width; }

function aliceLabel(x, yA, yB) {
  const els = [];
  els.push(gText(x, yA, '{n|ALICE}', 18));
  els.push(gText(x, yB, '{n|p-Pb, NSD, \u221A}{i|s}{sub|NN}{n| = 5.02 TeV}', 18));
  const x0 = x + tw('p-Pb, NSD, \u221A', '18px ' + FONT) - 0.5;
  const x1 = x0 + tw('s', 'italic 18px ' + FONT) + tw('NN', '12px ' + FONT) + 1.5;
  els.push(gLine(x0, yB - 8.3, x1, yB - 8.3, '#000', 1));
  return els;
}

function legendBlock(x0, w, h, tx, fs, rows) {
  const els = [];
  rows.forEach(r => {
    const y = r.y, cx = x0 + w / 2;
    const t = r.sym;
    if (t === 'pi0') { els.push(gRect(x0, y - h / 2, w, h, 'none', COL.pi0Box, 1.3)); els.push({ type: 'circle', z: 101, silent: true, shape: { cx: cx, cy: y, r: 3.2 }, style: { fill: COL.pi0Mark } }); }
    if (t === 'eta') { els.push(gRect(x0, y - h / 2, w, h, 'none', COL.etaBox, 1.3)); els.push(gRect(cx - 3.2, y - 3.2, 6.4, 6.4, COL.etaMark, null, 0)); }
    if (t === 'epos') { els.push(gRect(x0, y - h / 2, w, h, COL.eposBand, null, 0)); els.push(gLine(x0, y, x0 + w, y, COL.eposLine, 2)); }
    if (t === 'vish') { els.push(gRect(x0, y - h / 2, w, h, COL.vishOuter, null, 0)); els.push(gLine(x0, y, x0 + w, y, COL.vishInner, 2.4)); }
    if (t === 'dpm') els.push(gLine(x0, y, x0 + w, y, COL.dpm, 2.5, [6, 4]));
    if (t === 'hij') els.push(gLine(x0, y, x0 + w, y, COL.hij, 2.3, [6, 2.5, 1.5, 2.5, 1.5, 2.5]));
    if (t === 'cgc') els.push(gLine(x0, y, x0 + w, y, COL.cgc, 2));
    if (t === 'epps') { els.push(gRect(x0, y - h / 2, w, h, COL.gray, null, 0)); els.push(gLine(x0, y, x0 + w, y, COL.olive, 2, [2, 2])); }
    if (t === 'ncteq') { els.push(gRect(x0, y - h / 2, w, h, 'none', COL.brown, 1.1)); els.push(gLine(x0 + 2, y, x0 + w - 2, y, COL.brown, 1.2, [3, 2.5])); }
    if (t === 'ncteqDot') { els.push(gRect(x0, y - h / 2, w, h, 'none', COL.brown, 1.1)); els.push(gLine(x0 + 2, y, x0 + w - 2, y, COL.brown, 1.6, [1.6, 1.6])); }
    if (t === 'fit') els.push(gLine(x0, y, x0 + w, y, '#000', 1.6));
    els.push(gText(tx, y, r.text, fs, { supLH: Math.round(fs * 0.45) }));
  });
  return els;
}

const legendLeftPi0 = legendBlock(127, 21, 12, 153, 16, [
  { y: 271, sym: 'pi0', text: '{n|\u03C0}{sup|0}' },
  { y: 287, sym: 'epos', text: '{n|EPOS3}' },
  { y: 304, sym: 'vish', text: '{n|VISHNU}' },
  { y: 322, sym: 'dpm', text: '{n|DPMJet}' },
  { y: 340, sym: 'hij', text: '{n|HIJING}' },
  { y: 357.5, sym: 'cgc', text: '{n|CGC MV}{sup|\u03B3}' },
  { y: 376, sym: 'epps', text: '{n|NLO: EPPS16, DSS14}' },
  { y: 394, sym: 'ncteq', text: '{n|NLO: nCTEQ, DSS14}' },
  { y: 412, sym: 'fit', text: '{n|Tsallis fit}' }
]);
const legendLeftEta = legendBlock(127, 21, 12, 153, 16, [
  { y: 467.5, sym: 'eta', text: '{n|\u03B7 \u00D7 10}{sup|-1}' },
  { y: 488.5, sym: 'epos', text: '{n|EPOS3}' },
  { y: 509.5, sym: 'vish', text: '{n|VISHNU}' },
  { y: 530, sym: 'dpm', text: '{n|DPMJet}' },
  { y: 549.5, sym: 'hij', text: '{n|HIJING}' },
  { y: 570.5, sym: 'ncteq', text: '{n|NLO: nCTEQ, AESSS}' },
  { y: 592.5, sym: 'fit', text: '{n|Tsallis fit}' }
]);
const legendRightTop = legendBlock(715, 22, 13, 741, 17, [
  { y: 34, sym: 'pi0', text: '{n|\u03C0}{sup|0}' },
  { y: 52.5, sym: 'cgc', text: '{n|CGC MV}{sup|\u03B3}' },
  { y: 74, sym: 'epos', text: '{n|EPOS3}' },
  { y: 95, sym: 'vish', text: '{n|VISHNU}' },
  { y: 116.7, sym: 'epps', text: '{n|NLO:}' },
  { y: 136.7, sym: 'none', text: '{n|EPPS16, DSS14}' }
]);
const legendRightBot = legendBlock(715, 22, 13, 741, 17, [
  { y: 354, sym: 'eta', text: '{n|\u03B7}' },
  { y: 376.7, sym: 'ncteqDot', text: '{n|NLO:}' },
  { y: 396.7, sym: 'none', text: '{n|nCTEQ, AESSS}' },
  { y: 418.3, sym: 'hij', text: '{n|HIJING}' },
  { y: 439.3, sym: 'dpm', text: '{n|DPMJet}' }
]);

// y-axis title, left (rotated)
const leftTitleRich = { bold: true, supLH: 9, subLH: 9 };
const leftYTitle = {
  type: 'group', x: 39, y: 250, rotation: Math.PI / 2, z: 100, silent: true,
  children: [
    { type: 'line', shape: { x1: 2, y1: 0, x2: 78, y2: 0 }, style: { stroke: '#000', lineWidth: 1.6 } },
    { type: 'text', x: 43, y: 2, style: { text: '{b|1}', align: 'center', verticalAlign: 'bottom', rich: richSet(19, leftTitleRich) } },
    { type: 'text', x: 40, y: 0, style: { text: '{b|2\u03C0  }{bi|N}{sub|ev.}', align: 'center', verticalAlign: 'top', rich: richSet(19, leftTitleRich) } },
    { type: 'line', shape: { x1: 83, y1: 0, x2: 168, y2: 0 }, style: { stroke: '#000', lineWidth: 1.6 } },
    { type: 'text', x: 120, y: 2, style: { text: '{b|d}{sup|2}{bi|N}', align: 'center', verticalAlign: 'bottom', rich: richSet(19, leftTitleRich) } },
    { type: 'text', x: 125, y: 0, style: { text: '{bi|p}{sub|T}{b| d}{bi|p}{sub|T}{b| d}{bi|y}', align: 'center', verticalAlign: 'top', rich: richSet(19, leftTitleRich) } },
    { type: 'text', x: 177, y: 0, style: { text: '{b|(c/GeV)}{sup|2}', align: 'left', verticalAlign: 'middle', rich: richSet(19, leftTitleRich) } }
  ]
};
function ratioTitle(cy) {
  return { type: 'group', x: 643.3, y: cy, rotation: Math.PI / 2, z: 100, silent: true,
    children: [
      { type: 'line', shape: { x1: -67, y1: 0, x2: 67, y2: 0 }, style: { stroke: '#000', lineWidth: 1.6 } },
      { type: 'text', x: 0, y: 0, style: { text: '{b|Theory, Data}', align: 'center', verticalAlign: 'bottom', rich: richSet(21, { bold: true }) } },
      { type: 'text', x: 0, y: 2, style: { text: '{b|fit}', align: 'center', verticalAlign: 'top', rich: richSet(21, { bold: true }) } }
    ] };
}
const xTitleText = '{bi|p}{sub|T}{b| (GeV/}{bi|c}{b|)}';

const chart = echarts.init(document.getElementById('chart'), null, { renderer: 'svg', width: 1198, height: 689 });
chart.setOption({
  backgroundColor: '#ffffff',
  animation: false,
  textStyle: { fontFamily: FONT },
  grid: [
    { left: 93, top: 4, width: 492, height: 635, containLabel: false, outerBoundsMode: 'none', show: false },
    { left: 693, top: 5, width: 492, height: 320, containLabel: false, outerBoundsMode: 'none', show: false },
    { left: 693, top: 325, width: 492, height: 315, containLabel: false, outerBoundsMode: 'none', show: false }
  ],
  xAxis: xAxes,
  yAxis: yAxes,
  series: series
});

// place the right x title just clear of the "10" tick label of the bottom-right axis
const tenPx = chart.convertToPixel({ xAxisIndex: RB }, 10);
const rightTitleX = (isFinite(tenPx) ? tenPx : 1091.7) + tw('10', '19px ' + FONT) / 2 + 1.5;

const graphics = [].concat(
  aliceLabel(342, 35.5, 53.5),
  aliceLabel(942, 36.7, 57),
  legendLeftPi0, legendLeftEta, legendRightTop, legendRightBot,
  [leftYTitle, ratioTitle(164), ratioTitle(483),
   gText(585, 665, xTitleText, 20, { bold: true, align: 'right', subLH: 9 }),
   gText(rightTitleX, 667, xTitleText, 19, { bold: true, align: 'left', subLH: 8 })]
);
chart.setOption({ graphic: { elements: graphics } });
</script>
</body>
</html>
